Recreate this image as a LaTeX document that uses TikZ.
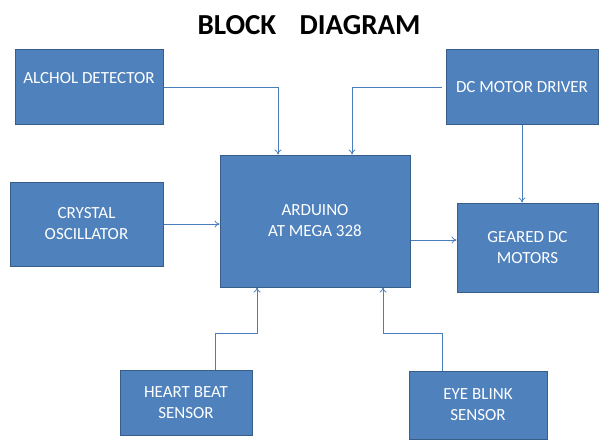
\documentclass[tikz,border=0pt]{standalone}
\usepackage{fontspec}
\setmainfont{Carlito}
\usetikzlibrary{arrows.meta}
\definecolor{boxblue}{HTML}{4F81BD}
\definecolor{boxedge}{HTML}{385D8A}
\definecolor{wireblue}{HTML}{4A7EBB}
\begin{document}
\begin{tikzpicture}[x=1pt,y=-1pt,
    blk/.style={draw=boxedge,line width=1pt,fill=boxblue,text=white,
      font=\fontsize{17}{21}\selectfont,align=center,inner sep=0pt},
    wire/.style={draw=wireblue,line width=0.8pt,-{To[length=5pt,width=7pt]}}]
    \useasboundingbox (0,0) rectangle (599,441);

    % title
    \node (title) at (309,25) {\fontsize{29}{32}\selectfont\bfseries BLOCK\hspace{0.8em}DIAGRAM};

    % blocks
    \node[blk,minimum width=148pt,minimum height=74pt,text depth=18pt] (alc) at (89,87) {ALCHOL DETECTOR};
    \node[blk,minimum width=152pt,minimum height=74pt] (drv) at (522,87) {DC MOTOR DRIVER};
    \node[blk,minimum width=153pt,minimum height=84pt] (cry) at (86.5,224) {CRYSTAL\\OSCILLATOR};
    \node[blk,minimum width=190pt,minimum height=132pt] (ard) at (315,221) {ARDUINO\\AT MEGA 328};
    \node[blk,minimum width=141pt,minimum height=89pt] (mot) at (527.5,247.5) {GEARED DC\\MOTORS};
    \node[blk,minimum width=132pt,minimum height=65pt] (hb) at (186,402.5) {HEART BEAT\\SENSOR};
    \node[blk,minimum width=138pt,minimum height=68pt] (eye) at (478,405) {EYE BLINK\\SENSOR};

    % bends below the arduino
    \coordinate (hbk) at (257,333);
    \coordinate (eyk) at (383,333);

    % connections
    \draw[wire] (alc.east) -| ([xshift=-37pt]ard.north);
    \draw[wire] ([xshift=-4pt]drv.west) -| ([xshift=37pt]ard.north);
    \draw[wire] (drv.south) -- (drv.south |- mot.north);
    \draw[wire] (cry.east) -- (cry.east -| ard.west);
    \draw[wire] ([yshift=-19pt]ard.east) -- ([yshift=-19pt]ard.east -| mot.west);
    \draw[wire] ([xshift=29pt]hb.north) |- (hbk) -- (hbk |- ard.south);
    \draw[wire] ([xshift=-36pt]eye.north) |- (eyk) -- (eyk |- ard.south);
\end{tikzpicture}
\end{document}
